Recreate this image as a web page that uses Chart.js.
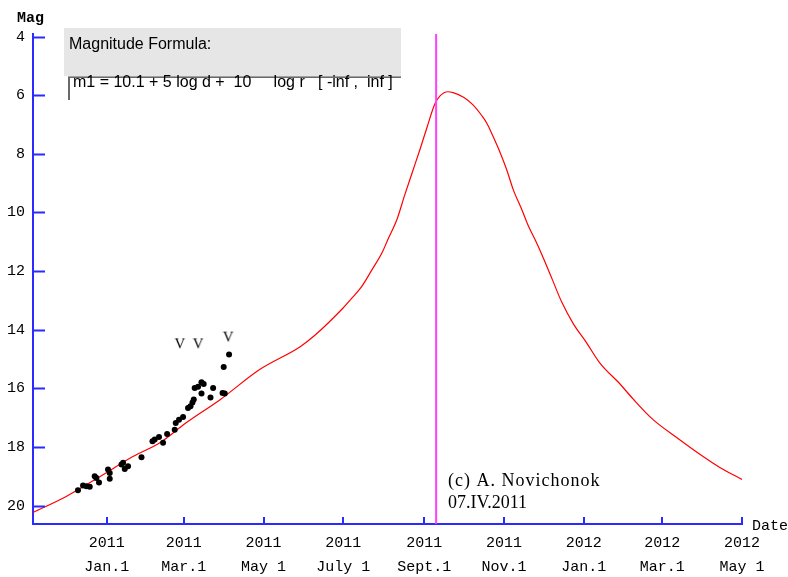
<!DOCTYPE html>
<html>
<head>
<meta charset="utf-8">
<script src="https://cdn.jsdelivr.net/npm/chart.js@4.4.1/dist/chart.umd.min.js"></script>
<style>
  html, body { margin: 0; padding: 0; background: #fff; }
</style>
</head>
<body>
<canvas id="lightCurve" width="788" height="577"></canvas>
<script>
// light curve data (days counted from 2011 Jan.1)

// x axis ticks
const tickDays  = [0, 59, 120, 181, 243, 304, 365, 425, 486];
const tickYears = ['2011', '2011', '2011', '2011', '2011', '2011', '2012', '2012', '2012'];
const tickDates = ['Jan.1', 'Mar.1', 'May 1', 'July 1', 'Sept.1', 'Nov.1', 'Jan.1', 'Mar.1', 'May 1'];

// y axis ticks (magnitude)
const magTicks = [4, 6, 8, 10, 12, 14, 16, 18, 20];

// predicted magnitude (red curve)
const curveDay = [-57, -31, -5, 20, 41, 61, 87, 117, 148, 159, 181, 188, 195, 203, 211, 215, 222, 228, 234, 240,
                  245, 251, 255, 261, 265, 273, 280, 287, 291, 295, 301, 306, 311, 318, 322, 329, 334, 341, 348, 357,
                  367, 377, 393, 403, 418, 436, 454, 469, 486];
const curveMag = [20.25, 19.69, 19.01, 18.33, 17.85, 17.17, 16.38, 15.36, 14.58, 14.20, 13.25, 12.90, 12.53, 11.95, 11.34, 10.93, 10.24, 9.40, 8.60, 7.80,
                  7.10, 6.30, 6.02, 5.88, 5.91, 6.07, 6.32, 6.70, 6.97, 7.35, 7.96, 8.54, 9.22, 9.95, 10.40, 11.05, 11.55, 12.30, 13.05, 13.80,
                  14.44, 15.12, 15.87, 16.38, 17.07, 17.68, 18.26, 18.70, 19.11];

// observations (black dots)
const obsDay = [-22, -18.1, -15.5, -13, -9.2, -7.9, -5.9, 1, 2.3, 2.3, 11.3, 12.5, 13.8, 16.3, 26.6, 35, 36.7, 40, 43.1,
                46.2, 52, 52.8, 55.3, 58.4, 62.2, 64.1, 65.6, 66.6, 67.3, 69.9, 72.5, 72.5, 74.2, 79.4, 81.4, 88.6, 90.3, 89.5, 93.6];
const obsMag = [19.48, 19.32, 19.34, 19.36, 19.00, 19.06, 19.21, 18.77, 19.09, 18.89, 18.60, 18.54, 18.75, 18.66, 18.35, 17.81, 17.75, 17.66, 17.86,
                17.56, 17.41, 17.18, 17.07, 16.98, 16.67, 16.61, 16.48, 16.38, 15.99, 15.95, 16.18, 15.79, 15.85, 16.31, 15.99, 16.16, 16.18, 15.27, 14.85];

// "v" marks
const limDay = [56, 70, 93];
const limMag = [14.5, 14.5, 14.27];

// vertical marker
const markDay = 252;

// axis range
const xMin = -56.4, xMax = 486;
const yMin = 3.91, yMax = 20.63;

const axisBlue = '#2b2bff';

function vMark() {
  const c = document.createElement('canvas');
  c.width = 12; c.height = 14;
  const g = c.getContext('2d');
  g.fillStyle = '#000';
  g.font = '15px "Liberation Serif"';
  g.textAlign = 'center';
  g.textBaseline = 'middle';
  g.fillText('V', 6, 7);
  return c;
}

const pts = (xs, ys) => xs.map((d, i) => ({ x: d, y: ys[i] }));

// tick marks, axis names, formula box, signature
const decor = {
  id: 'decor',
  afterDraw(chart) {
    const ctx = chart.ctx;
    const area = chart.chartArea;
    const sx = chart.scales.x, sy = chart.scales.y;
    ctx.save();
    ctx.strokeStyle = axisBlue;
    ctx.lineWidth = 2;
    ctx.beginPath();
    sy.ticks.forEach(t => {
      const py = Math.round(sy.getPixelForValue(t.value)) + 0.5;
      ctx.moveTo(area.left, py);
      ctx.lineTo(area.left + 12, py);
    });
    sx.ticks.forEach(t => {
      const px = Math.round(sx.getPixelForValue(t.value));
      ctx.moveTo(px, area.bottom);
      ctx.lineTo(px, area.bottom - 7);
    });
    ctx.stroke();

    ctx.fillStyle = '#000';
    ctx.textBaseline = 'middle';
    ctx.font = 'bold 15px "Liberation Mono"';
    ctx.textAlign = 'left';
    ctx.fillText('Mag', 17, 18);
    ctx.font = '15px "Liberation Mono"';
    ctx.fillText('Date', 752, 526);

    // formula box
    ctx.fillStyle = '#e6e6e6';
    ctx.fillRect(64, 28, 337, 48);
    ctx.fillStyle = '#a0a0a0';
    ctx.fillRect(68, 76, 333, 1);
    ctx.fillStyle = '#696969';
    ctx.fillRect(68, 77, 333, 1);
    ctx.fillRect(68, 77, 2, 23);
    ctx.fillStyle = '#000';
    ctx.font = '16px "Liberation Sans"';
    ctx.fillText('Magnitude Formula:', 69, 45);
    ctx.fillText('m1 = 10.1 + 5 log d +  10     log r   [ -inf ,  inf ]', 73, 83);

    ctx.font = '18px "Liberation Serif"';
    ctx.letterSpacing = '1px';
    ctx.fillText('(c) A. Novichonok', 448, 481);
    ctx.letterSpacing = '0px';
    ctx.fillText('07.IV.2011', 448, 503);
    ctx.restore();
  }
};

new Chart(document.getElementById('lightCurve'), {
  type: 'scatter',
  data: {
    datasets: [
      {
        data: pts([markDay, markDay], [yMin, yMax]),
        showLine: true, borderColor: '#ff40ff', borderWidth: 2, pointRadius: 0, order: 0
      },
      {
        data: pts(obsDay, obsMag),
        pointRadius: 3, backgroundColor: '#000', borderWidth: 0, order: 1
      },
      {
        data: pts(limDay, limMag),
        pointStyle: vMark(), order: 1
      },
      {
        data: pts(curveDay, curveMag),
        showLine: true, borderColor: '#ff0000', borderWidth: 1.2, pointRadius: 0,
        cubicInterpolationMode: 'monotone', order: 2
      }
    ]
  },
  options: {
    responsive: false,
    animation: false,
    layout: { padding: { top: 34, right: 46, left: 0, bottom: 0 } },
    plugins: { legend: { display: false }, tooltip: { enabled: false } },
    scales: {
      x: {
        type: 'linear', min: xMin, max: xMax,
        afterBuildTicks: s => { s.ticks = tickDays.map(v => ({ value: v })); },
        afterFit: s => { s.height = 53; },
        grid: { display: false, drawTicks: false },
        border: { display: true, color: axisBlue, width: 2 },
        ticks: {
          color: '#000', padding: 7, maxRotation: 0, autoSkip: false,
          font: { family: 'Liberation Mono', size: 15, lineHeight: 1.6 },
          callback: v => { const i = tickDays.indexOf(v); return [tickYears[i], tickDates[i]]; }
        }
      },
      y: {
        reverse: true, min: yMin, max: yMax,
        afterBuildTicks: s => { s.ticks = magTicks.map(v => ({ value: v })); },
        afterFit: s => { s.width = 33; },
        grid: { display: false, drawTicks: false },
        border: { display: true, color: axisBlue, width: 2 },
        ticks: {
          color: '#000', padding: 8, autoSkip: false,
          font: { family: 'Liberation Mono', size: 15 },
          callback: v => String(v)
        }
      }
    }
  },
  plugins: [decor]
});
</script>
</body>
</html>
